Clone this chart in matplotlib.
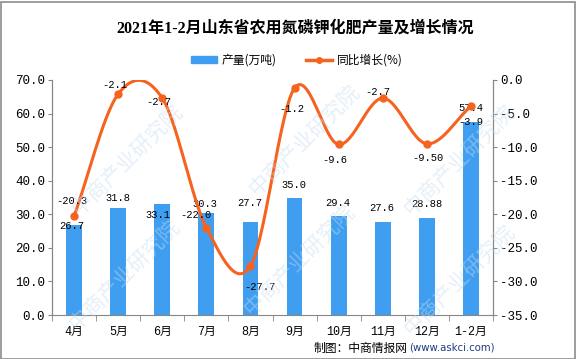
import numpy as np
import matplotlib
matplotlib.use("Agg")
from matplotlib import pyplot as plt
from matplotlib.patches import Rectangle
from matplotlib.lines import Line2D
from matplotlib.patches import Patch

plt.rcParams['font.family'] = ['Noto Sans CJK SC', 'DejaVu Sans']

months = ['4月', '5月', '6月', '7月', '8月', '9月', '10月', '11月', '12月', '1-2月']
output = [26.7, 31.8, 33.1, 30.3, 27.7, 35.0, 29.4, 27.6, 28.88, 57.4]
output_lbl = ['26.7', '31.8', '33.1', '30.3', '27.7', '35.0', '29.4', '27.6', '28.88', '57.4']
growth = [-20.3, -2.1, -2.7, -22.0, -27.7, -1.2, -9.6, -2.7, -9.50, -3.9]
growth_lbl = ['-20.3', '-2.1', '-2.7', '-22.0', '-27.7', '-1.2', '-9.6', '-2.7', '-9.50', '-3.9']

# label offsets in pixels (dx, dy) - the original dodges labels around
bar_off = [(-2, -1), (0, 10), (-4, -11), (-1, 9), (-1, 19), (-1, 13), (-1, 13), (-1, 14), (0, 14), (0, 14)]
line_off = [(-2, 15), (-3, 9), (-3, -4), (-10, 13), (9, -21), (-3, -21), (-4, -16), (-5, 6), (1, -14), (0, -16)]

bar_color = '#3f9ef0'
line_color = '#f5631f'
axis_gray = '#868686'
mono = ['Liberation Mono', 'Noto Sans CJK SC']


def catmull_rom(x, y, n=30):
    # smooth curve for drawing, same style as office "smoothed line"
    x = np.asarray(x, float)
    y = np.asarray(y, float)
    xp = np.concatenate([[2 * x[0] - x[1]], x, [2 * x[-1] - x[-2]]])
    yp = np.concatenate([[2 * y[0] - y[1]], y, [2 * y[-1] - y[-2]]])
    xs, ys = [], []
    for i in range(1, len(xp) - 2):
        t = np.linspace(0, 1, n)
        for arr, out in ((xp, xs), (yp, ys)):
            p0, p1, p2, p3 = arr[i - 1], arr[i], arr[i + 1], arr[i + 2]
            m1 = (p2 - p0) / 2
            m2 = (p3 - p1) / 2
            h00 = 2 * t**3 - 3 * t**2 + 1
            h10 = t**3 - 2 * t**2 + t
            h01 = -2 * t**3 + 3 * t**2
            h11 = t**3 - t**2
            out.extend(h00 * p1 + h10 * m1 + h01 * p2 + h11 * m2)
    return np.array(xs), np.array(ys)


fig = plt.figure(figsize=(5.76, 3.59), dpi=100)
ax = fig.add_axes([52 / 576, 1 - 315 / 359, 441 / 576, 235 / 359])
ax2 = ax.twinx()

x = np.arange(len(months))
ax.bar(x, output, width=0.36, color=bar_color, zorder=2)
ax.set_xlim(-0.5, len(months) - 0.5)
ax.set_ylim(0, 70)
ax.set_yticks(np.arange(0, 71, 10))
ax.set_yticklabels(['%.1f' % v for v in np.arange(0, 71, 10)], family=mono, fontsize=9)
ax.set_xticks(x)
ax.set_xticklabels(months, fontsize=8.5, family=['Liberation Mono', 'Noto Sans CJK SC'])
ax.set_xticks(np.arange(-0.5, len(months), 1), minor=True)
ax.tick_params(axis='x', which='major', length=0, pad=8)
ax.tick_params(axis='x', which='minor', length=4, color=axis_gray)
ax.tick_params(axis='y', length=3, color=axis_gray, pad=2)

for i, v in enumerate(output):
    ax.annotate(output_lbl[i], (x[i], v), xytext=bar_off[i], textcoords='offset pixels',
                ha='center', va='center', fontsize=7.5, family=mono, zorder=5)

sx, sy = catmull_rom(x, growth)
ax2.plot(sx, sy, color=line_color, lw=2.2, zorder=3)
ax2.plot(x, growth, 'o', color=line_color, ms=5, zorder=4)
ax2.set_ylim(-35, 0)
ax2.set_yticks(np.arange(-35, 1, 5))
ax2.set_yticklabels(['%.1f' % v for v in np.arange(-35, 1, 5)], family=mono, fontsize=9)
ax2.tick_params(axis='y', length=3, color=axis_gray, pad=2)

for i, v in enumerate(growth):
    ax2.annotate(growth_lbl[i], (x[i], v), xytext=line_off[i], textcoords='offset pixels',
                 ha='center', va='center', fontsize=7.5, family=mono, zorder=5)

for a in (ax, ax2):
    a.spines['top'].set_visible(False)
    for s in ('left', 'right', 'bottom'):
        a.spines[s].set_color(axis_gray)
ax2.spines['bottom'].set_visible(False)

fig.text(295 / 576, 1 - 29 / 359, '2021年1-2月山东省农用氮磷钾化肥产量及增长情况',
         ha='center', va='center', fontsize=11.5, fontweight='bold',
         family=['Liberation Serif', 'Noto Sans CJK SC'])

handles = [Patch(color=bar_color), Line2D([], [], color=line_color, lw=2.5, marker='o', ms=4)]
fig.legend(handles, ['产量(万吨)', '同比增长(%)'], loc='center', bbox_to_anchor=(297 / 576, 1 - 60 / 359),
           ncol=2, frameon=False, fontsize=8.5, handlelength=2.2, handleheight=0.5,
           columnspacing=2.5, handletextpad=0.4)

fig.text(409 / 576, 1 - 348 / 359, '(www.askci.com)', ha='left', va='center',
         fontsize=7.3, color='#1f3a80', family=['DejaVu Sans'])
fig.text(408 / 576, 1 - 348 / 359, '制图：中商情报网', ha='right', va='center', fontsize=8.5)

# watermark
wm = [(128, 160), (125, 275), (305, 140), (300, 260), (460, 160), (460, 280)]
for px, py in wm:
    fig.text(px / 576, 1 - py / 359, '中商产业研究院', rotation=45, ha='center', va='center',
             fontsize=15, color='#c4dcf0', alpha=0.45, zorder=10)

fig.patches.append(Rectangle((0.5 / 576, 0.5 / 359), 574 / 576, 357 / 359, transform=fig.transFigure,
                             fill=False, edgecolor='#8c8c8c', lw=1.2))

fig.savefig('out.png', dpi=100)
